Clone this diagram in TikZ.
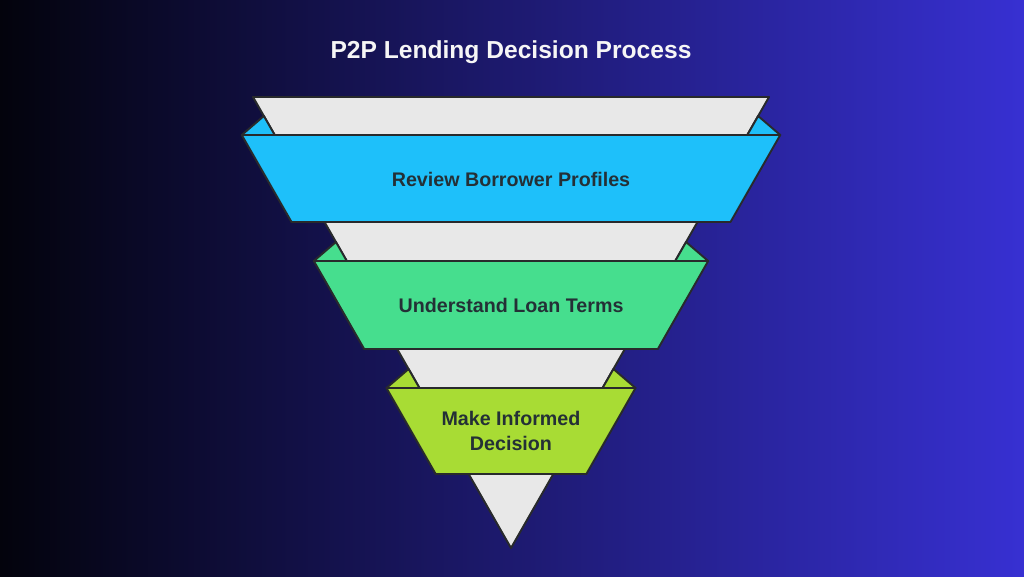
\documentclass[tikz,border=0pt]{standalone}
\usepackage{fontspec}
\setmainfont{Liberation Sans}
\definecolor{bgleft}{RGB}{3,3,12}
\definecolor{bgmid}{RGB}{28,26,100}
\definecolor{bgright}{RGB}{55,48,210}
\definecolor{funnelgray}{RGB}{232,232,232}
\definecolor{edgedark}{RGB}{40,42,44}
\definecolor{bandblue}{RGB}{30,192,250}
\definecolor{bandgreen}{RGB}{70,222,142}
\definecolor{bandlime}{RGB}{168,220,52}
\definecolor{labeldark}{RGB}{36,48,54}
\tikzset{
	outline/.style={draw=edgedark,line width=1.1pt,line join=round},
	bandtext/.style={text=labeldark,font=\fontsize{11.2}{14.5}\selectfont\bfseries,align=center}
}
\begin{document}
\begin{tikzpicture}[x=0.02cm,y=-0.02cm]
		\shade[left color=bgleft,middle color=bgmid,right color=bgright] (0,0)rectangle(1024,576);
		\node (title) at(511,52){\textcolor{white!93!gray}{\fontsize{14}{17}\selectfont\bfseries P2P Lending Decision Process}};
		% funnel body
		\draw[outline,fill=funnelgray] (253,97)--(769,97)--(511,548)--cycle;
		% bands with folded corners
		\foreach \t/\b/\c in{135/222/bandblue,261/349/bandgreen,388/474/bandlime}{
			\pgfmathsetmacro\g{253+0.572*(\t-97)}
			\pgfmathsetmacro\a{253+0.572*(\t-19-97)}
			\pgfmathsetmacro\l{\g-33}
			\pgfmathsetmacro\m{\l+0.572*(\b-\t)}
			\draw[outline,fill=\c] (\l,\t)--(\a,\t-19)--(\g,\t)--cycle;
			\draw[outline,fill=\c] (1022-\l,\t)--(1022-\a,\t-19)--(1022-\g,\t)--cycle;
			\draw[outline,fill=\c] (\l,\t)--(1022-\l,\t)--(1022-\m,\b)--(\m,\b)--cycle;
		}
		\node[bandtext] (review) at(511,179){Review Borrower Profiles};
		\node[bandtext] (terms) at(511,305){Understand Loan Terms};
		\node[bandtext] (decide) at(511,431){Make Informed\\Decision};
\end{tikzpicture}
\end{document}
